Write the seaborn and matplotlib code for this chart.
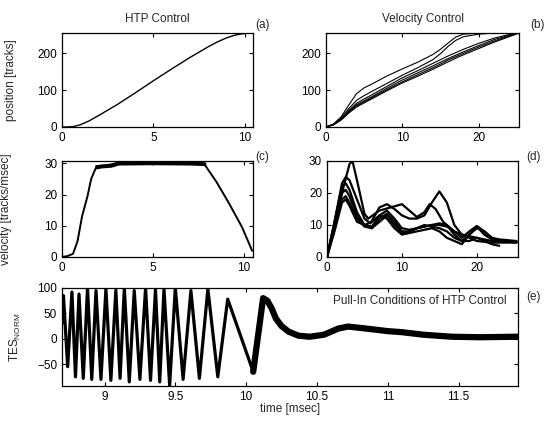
import pandas as pd
import seaborn as sns
import matplotlib.pyplot as plt

# (a) HTP control: position [tracks] vs time [msec]
t_htp = [0, 0.3, 0.6, 1.0, 1.5, 2, 3, 4, 5, 6, 7, 8, 8.5, 9, 9.5, 10, 10.45]
pos_htp = [0, 0, 1, 6, 17, 31, 60, 92, 125, 157, 188, 217, 230, 241, 249, 253, 254]

# (c) HTP control: velocity [tracks/msec]
t_vel = [0, 0.3, 0.6, 0.85, 1.1, 1.4, 1.6, 1.85, 2.1, 2.7, 3.1, 4, 5, 6, 7, 7.8, 8.5, 9.2, 9.9, 10.45]
vel_htp = [0, 0.3, 1, 5, 13, 19.5, 25, 28.5, 29.3, 29.5, 30.2, 30.3, 30.3, 30.3, 30.2, 30, 24, 17, 9.5, 2]
# noisy band on the constant-velocity part
plat_t = [1.8, 2.2, 2.7, 3.1, 5, 7, 7.9]
plat_lo = [28.2, 28.6, 28.8, 29.5, 29.6, 29.5, 29.3]
plat_hi = [29.6, 29.8, 30.2, 30.8, 30.8, 30.8, 30.5]

# (b) velocity control: position of six seeks
t_vc = [0, 1, 2, 3, 4, 5, 6, 8, 10, 12, 14, 15, 16, 17, 18, 20, 22, 24, 25.2]
pos_vc = {
    1: [0, 8, 28, 60, 90, 106, 116, 138, 157, 175, 196, 210, 227, 243, 251, 254, 255, 255, 255],
    2: [0, 8, 25, 50, 72, 85, 96, 118, 140, 160, 182, 198, 218, 234, 244, 251, 254, 255, 255],
    3: [0, 7, 22, 45, 64, 76, 87, 110, 133, 152, 172, 182, 192, 201, 210, 226, 240, 250, 255],
    4: [0, 7, 21, 42, 60, 71, 82, 105, 127, 146, 165, 175, 185, 194, 203, 220, 236, 248, 255],
    5: [0, 6, 20, 40, 57, 68, 79, 101, 122, 141, 160, 170, 181, 190, 199, 216, 232, 246, 254],
    6: [0, 6, 19, 38, 54, 65, 76, 98, 119, 137, 156, 166, 176, 186, 195, 212, 229, 244, 253],
}

# (d) velocity control: velocity of the same seeks
t_d1 = [0, 1, 2, 3, 3.4, 4, 5, 5.5, 7, 8.5, 10, 11, 12, 13, 13.7, 14.5, 15.5, 17, 18, 20, 22, 25.3]
v_d1 = [0, 10, 20, 29, 30, 24, 13.5, 12, 14.5, 15.5, 16.5, 14.5, 12.5, 14, 16.5, 15, 11, 8, 7, 6, 5, 4.6]
t_d2 = [0, 1, 2, 2.5, 3, 4, 5, 5.8, 7, 8, 9, 10, 11, 12, 13, 14, 15, 16, 17, 18, 19, 20, 22, 25.3]
v_d2 = [0, 11, 23, 25, 24, 18, 12, 10.5, 15.5, 16.5, 15, 13, 12, 12, 13, 17, 20.5, 17, 10, 7, 6, 5, 4.5, 4.5]
t_d36 = [0, 1, 2, 2.5, 3, 4, 5, 6, 7, 8, 9, 10, 11, 12, 13, 14, 15, 16, 17, 18, 19, 20, 21, 22, 23, 25.3]
v_d3 = [0, 11, 22, 23, 21, 14, 10, 9.5, 13, 14.5, 12, 9, 8.5, 9, 9.5, 10, 10, 9.5, 8, 6, 8, 9.7, 8, 6, 5.5, 5]
v_d4 = [0, 10, 20, 21, 19, 13, 10, 9, 12, 13.5, 11, 8, 8, 9, 9.5, 10, 10.5, 10, 7, 5, 7, 9, 8, 6, 5, 4.8]
v_d6 = [0, 8, 17, 18, 16, 11, 10, 11, 13, 12, 9, 7, 7.5, 8, 8.5, 9, 8, 6, 5, 4, 7, 9.5, 7, 5.5, 5, 4.6]
t_d5 = [0, 1, 2, 2.5, 3, 4, 5, 6, 7, 8, 9, 10, 11, 12, 13, 14, 15, 16, 17, 18, 19, 20, 21, 22, 23]
v_d5 = [0, 9, 18, 19, 17, 12, 9.5, 9, 11, 13, 10, 7.5, 8, 9, 10, 9.5, 9, 8, 6, 5, 5, 6, 5, 4, 3.5]

# (e) pull-in of HTP control: TES_NORM vs time [msec]
tes_t = [8.70, 8.71, 8.74, 8.77, 8.795, 8.82, 8.85, 8.88, 8.91, 8.94, 8.975, 9.01, 9.045,
         9.08, 9.11, 9.14, 9.175, 9.21, 9.25, 9.29, 9.325, 9.36, 9.39, 9.42, 9.46, 9.50,
         9.555, 9.61, 9.67, 9.73, 9.80, 9.87, 10.05]
tes = [30, 85, -55, 92, -75, 88, -78, 100, -80, 95, -80, 98, -82, 96, -78, 100, -85, 95,
       -80, 100, -82, 97, -85, 98, -92, 100, -80, 95, -78, 98, -75, 78, -65]
tail_t = [10.05, 10.12, 10.15, 10.18, 10.21, 10.25, 10.30, 10.37, 10.45, 10.55, 10.65,
          10.72, 10.85, 11.0, 11.1, 11.25, 11.45, 11.65, 11.92]
tail = [-65, 80, 75, 60, 40, 25, 14, 6, 4, 8, 20, 24, 20, 15, 13, 8, 4, 3, 4]

sns.set_style("ticks")
plt.rcParams['font.family'] = ['Liberation Sans', 'DejaVu Sans']
plt.rcParams['font.size'] = 8.5
plt.rcParams['axes.linewidth'] = 0.9

fig = plt.figure(figsize=(5.45, 4.25), dpi=100)
ax_a = fig.add_axes([0.1138, 0.7012, 0.3505, 0.2219])
ax_b = fig.add_axes([0.5982, 0.7012, 0.3541, 0.2219])
ax_c = fig.add_axes([0.1138, 0.3953, 0.3505, 0.2259])
ax_d = fig.add_axes([0.6000, 0.3953, 0.3505, 0.2259])
ax_e = fig.add_axes([0.1138, 0.0918, 0.8367, 0.2306])

# (a)
sns.lineplot(x=t_htp, y=pos_htp, color='k', lw=1.0, ax=ax_a)
ax_a.set_xlim(0, 10.45)
ax_a.set_ylim(0, 255)
ax_a.set_xticks([0, 5, 10])
ax_a.set_yticks([0, 100, 200])
ax_a.set_title("HTP Control", fontsize=8.5, pad=8)
ax_a.set_ylabel("position [tracks]")
ax_a.yaxis.set_label_coords(-0.235, 0.5)

# (b)
df_b = pd.concat([pd.DataFrame({'t': t_vc, 'pos': p, 'run': r}) for r, p in pos_vc.items()])
sns.lineplot(data=df_b, x='t', y='pos', units='run', estimator=None, color='k', lw=0.8, ax=ax_b)
ax_b.set_xlim(0, 25.3)
ax_b.set_ylim(0, 255)
ax_b.set_xticks([0, 10, 20])
ax_b.set_yticks([0, 100, 200])
ax_b.set_title("Velocity Control", fontsize=8.5, pad=8)
ax_b.set_xlabel("")
ax_b.set_ylabel("")

# (c)
sns.lineplot(x=t_vel, y=vel_htp, color='k', lw=1.4, ax=ax_c)
ax_c.fill_between(plat_t, plat_lo, plat_hi, color='k', lw=0)
ax_c.set_xlim(0, 10.5)
ax_c.set_ylim(0, 30.8)
ax_c.set_xticks([0, 5, 10])
ax_c.set_yticks([0, 10, 20, 30])
ax_c.set_ylabel("velocity [tracks/msec]")
ax_c.yaxis.set_label_coords(-0.26, 0.5)

# (d)
runs_d = [(t_d1, v_d1), (t_d2, v_d2), (t_d36, v_d3), (t_d36, v_d4), (t_d5, v_d5), (t_d36, v_d6)]
df_d = pd.concat([pd.DataFrame({'t': t, 'v': v, 'run': i}) for i, (t, v) in enumerate(runs_d)])
sns.lineplot(data=df_d, x='t', y='v', units='run', estimator=None, color='k', lw=1.6, ax=ax_d)
ax_d.set_xlim(0, 25.5)
ax_d.set_ylim(0, 30)
ax_d.set_xticks([0, 10, 20])
ax_d.set_yticks([0, 10, 20, 30])
ax_d.set_xlabel("")
ax_d.set_ylabel("")

# (e)
sns.lineplot(x=tes_t, y=tes, color='k', lw=2.3, ax=ax_e)
sns.lineplot(x=tail_t, y=tail, color='k', lw=4.5, ax=ax_e)
ax_e.set_xlim(8.7, 11.92)
ax_e.set_ylim(-93, 100)
ax_e.set_xticks([9, 9.5, 10, 10.5, 11, 11.5])
ax_e.set_xticklabels(['9', '9.5', '10', '10.5', '11', '11.5'])
ax_e.set_yticks([-50, 0, 50, 100])
ax_e.set_xlabel("time [msec]")
ax_e.xaxis.set_label_coords(0.5, -0.17)
ax_e.set_ylabel(r"TES$_\mathregular{NORM}$")
ax_e.yaxis.set_label_coords(-0.085, 0.5)
ax_e.text(0.785, 0.87, "Pull-In Conditions of HTP Control", transform=ax_e.transAxes,
          ha='center', va='center', fontsize=8.5)

for ax, lab, x, y in [(ax_a, '(a)', 1.047, 1.08), (ax_b, '(b)', 1.098, 1.08),
                      (ax_c, '(c)', 1.047, 1.04), (ax_d, '(d)', 1.08, 1.04),
                      (ax_e, '(e)', 1.033, 0.91)]:
    ax.text(x, y, lab, transform=ax.transAxes, ha='center', va='center', fontsize=8.5)
    ax.tick_params(direction='in', length=3, width=0.8, top=True, right=True,
                   labelsize=8.5, colors='k')
    for s in ax.spines.values():
        s.set_color('k')

fig.savefig("out.png", dpi=100)
